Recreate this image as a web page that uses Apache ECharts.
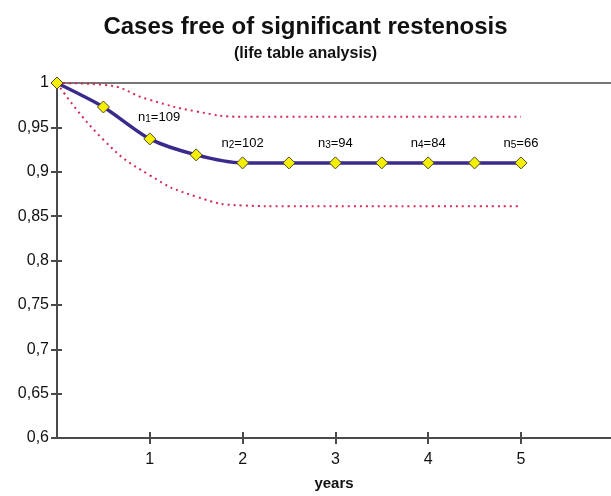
<!DOCTYPE html>
<html style="height: 100%">
<head>
    <meta charset="utf-8">
    <title>Cases free of significant restenosis</title>
</head>
<body style="margin: 0; background: #fff">
<div id="container" style="width: 611px; height: 496px"></div>

<script src="https://cdn.jsdelivr.net/npm/echarts@6.0.0/dist/echarts.min.js" type="text/javascript"></script>
<script type="text/javascript">

    // survival estimate, every half year
    var years = [0, 0.5, 1, 1.5, 2, 2.5, 3, 3.5, 4, 4.5, 5];
    var survival = [1, 0.973, 0.937, 0.919, 0.91, 0.91, 0.91, 0.91, 0.91, 0.91, 0.91];

    // confidence bounds
    var boundYears = [0, 0.5, 1, 1.5, 2, 2.5, 3, 4, 5];
    var upperBound = [1, 0.998, 0.981, 0.968, 0.962, 0.962, 0.962, 0.962, 0.962];
    var lowerBound = [1, 0.936, 0.896, 0.872, 0.862, 0.861, 0.861, 0.861, 0.861];

    // numbers at risk
    var nX = [1.1, 2, 3, 4, 5];
    var nY = [0.961, 0.932, 0.932, 0.932, 0.932];
    var nIndex = ['1', '2', '3', '4', '5'];
    var nCount = [109, 102, 94, 84, 66];

    var xTicks = [1, 2, 3, 4, 5];

    function pairs(xs, ys) {
        return xs.map(function (x, i) { return [x, ys[i]]; });
    }

    var dom = document.getElementById("container");
    var myChart = echarts.init(dom);

    var font = 'Liberation Sans, Arial, sans-serif';
    var axisColor = '#4a4a4a';

    var nData = nX.map(function (x, i) {
        return {value: [x, nY[i]], sub: nIndex[i], count: nCount[i]};
    });

    var option = {
        animation: false,
        title: {
            text: 'Cases free of significant restenosis',
            subtext: '(life table analysis)',
            left: 'center',
            top: 10,
            itemGap: 7,
            textStyle: {fontFamily: font, fontSize: 24, fontWeight: 'bold', color: '#111'},
            subtextStyle: {fontFamily: font, fontSize: 16, fontWeight: 'bold', color: '#111'}
        },
        grid: {left: 57, right: 0, top: 83, bottom: 53, containLabel: false},
        xAxis: [
            {
                type: 'value', min: 0, max: 5.97, interval: 1,
                name: 'years', nameLocation: 'middle', nameGap: 38,
                nameTextStyle: {fontFamily: font, fontSize: 15, fontWeight: 'bold', color: '#111'},
                axisLine: {lineStyle: {color: axisColor, width: 2}},
                axisTick: {length: 6, customValues: xTicks, lineStyle: {color: axisColor, width: 2}},
                axisLabel: {
                    margin: 14, fontFamily: font, fontSize: 16, color: '#111',
                    customValues: xTicks
                },
                splitLine: {show: false}
            },
            {
                type: 'value', min: 0, max: 5.97, interval: 1, position: 'bottom',
                axisLine: {show: false},
                axisTick: {inside: true, length: 6, customValues: xTicks, lineStyle: {color: axisColor, width: 2}},
                axisLabel: {show: false},
                splitLine: {show: false}
            },
            {
                type: 'value', min: 0, max: 5.97, position: 'top',
                axisLine: {lineStyle: {color: axisColor, width: 1.5}},
                axisTick: {show: false},
                axisLabel: {show: false},
                splitLine: {show: false}
            }
        ],
        yAxis: [
            {
                type: 'value', min: 0.6, max: 1, interval: 0.05,
                axisLine: {lineStyle: {color: axisColor, width: 2}},
                axisTick: {length: 6, lineStyle: {color: axisColor, width: 2}},
                axisLabel: {
                    margin: 8, fontFamily: font, fontSize: 16, color: '#111',
                    formatter: function (v) {
                        return String(Math.round(v * 100) / 100).replace('.', ',');
                    }
                },
                splitLine: {show: false}
            },
            {
                type: 'value', min: 0.6, max: 1, interval: 0.05, position: 'left',
                axisLine: {show: false},
                axisTick: {inside: true, length: 5, lineStyle: {color: axisColor, width: 2}},
                axisLabel: {show: false},
                splitLine: {show: false}
            }
        ],
        series: [
            {
                type: 'line', smooth: 0.5, symbol: 'none',
                data: pairs(boundYears, upperBound),
                lineStyle: {color: '#d42a55', width: 2, type: [2, 4]}
            },
            {
                type: 'line', smooth: 0.5, symbol: 'none',
                data: pairs(boundYears, lowerBound),
                lineStyle: {color: '#d42a55', width: 2, type: [2, 4]}
            },
            {
                type: 'line', smooth: 0.25,
                data: pairs(years, survival),
                symbol: 'diamond', symbolSize: 12,
                lineStyle: {color: '#3b2a8c', width: 3.5},
                itemStyle: {color: '#f7ef00', borderColor: '#4a4a30', borderWidth: 1}
            },
            {
                type: 'scatter', symbolSize: 1,
                itemStyle: {color: '#fff', opacity: 1},
                data: nData,
                z: 5,
                label: {
                    show: true, position: 'inside', opacity: 1,
                    formatter: function (p) {
                        return 'n{s|' + p.data.sub + '}=' + p.data.count;
                    },
                    fontFamily: font, fontSize: 13, color: '#000',
                    textBorderWidth: 0,
                    rich: {
                        s: {fontFamily: font, fontSize: 10, color: '#000', textBorderWidth: 0,
                            verticalAlign: 'bottom', padding: [4, 0, 0, 0]}
                    }
                }
            }
        ]
    };

    myChart.setOption(option);
</script>
</body>
</html>
